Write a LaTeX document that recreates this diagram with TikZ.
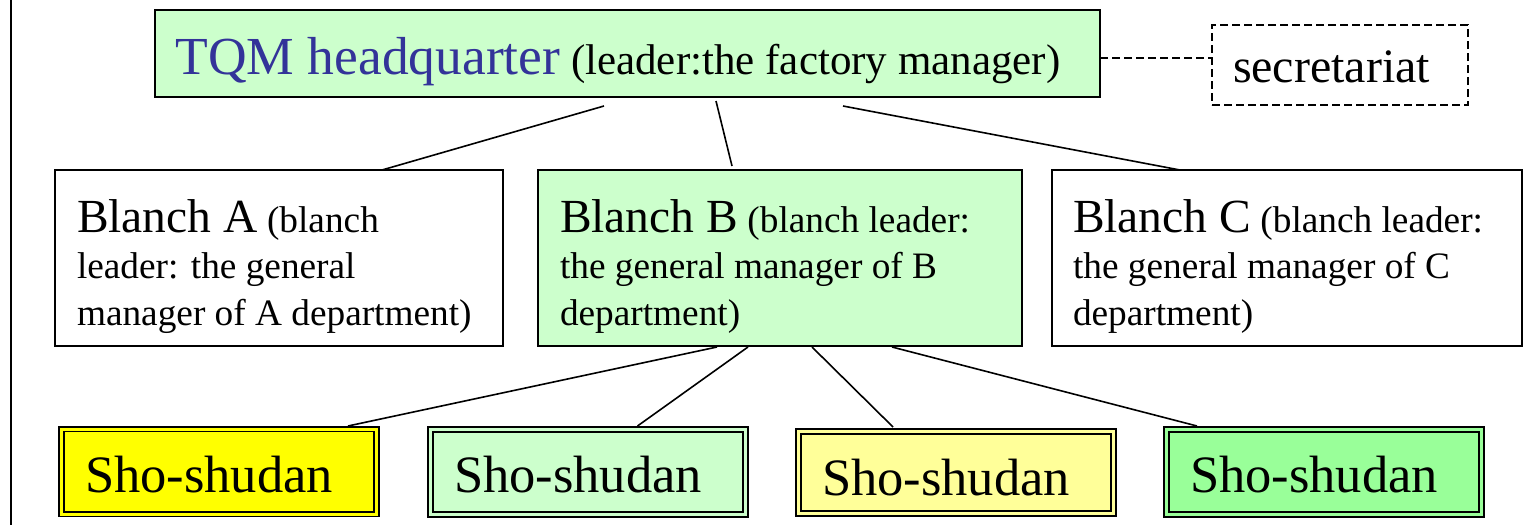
\documentclass[tikz,border=0pt]{standalone}
\usepackage{fontspec}
\setmainfont{Liberation Serif}
\usetikzlibrary{calc}

\definecolor{paleGreen}{HTML}{CCFFCC}
\definecolor{midGreen}{HTML}{99FF99}
\definecolor{brightYellow}{HTML}{FFFF00}
\definecolor{paleYellow}{HTML}{FFFF99}
\definecolor{tqmBlue}{HTML}{333399}

\newcommand\branchTitle{\fontsize{47.5}{46}\selectfont}
\newcommand\branchBody{\fontsize{37.3}{46.5}\selectfont}

\tikzset{
  orgbox/.style={draw=black, line width=2pt, anchor=north west, outer sep=0pt,
    inner ysep=0pt, text height=62pt, text depth=114pt},
  shobox/.style={draw=black, line width=1.8pt, double=#1, double distance=3pt,
    fill=#1, anchor=north west, outer sep=0pt, inner ysep=0pt, inner xsep=23.5pt,
    minimum width=315pt, minimum height=85pt, text width=268pt, align=left,
    text height=63pt, text depth=22pt, font=\fontsize{52.5}{60}\selectfont},
  link/.style={draw=black, line width=1.6pt},
}

\begin{document}
\begin{tikzpicture}[x=1pt, y=-1pt]
\useasboundingbox (0,0) rectangle (1532,525);

% frame rule on the left
\draw[line width=2.2pt] (11,0) -- (11,525);

% top level
\node[draw=black, line width=2.5pt, fill=paleGreen, anchor=north west, outer sep=0pt,
      inner xsep=0pt, inner ysep=0pt, minimum width=945pt, minimum height=87pt,
      text height=64pt, text depth=23pt, font=\fontsize{43}{50}\selectfont]
  (tqm) at (155,10)
  {{\color{tqmBlue}\fontsize{53.5}{60}\selectfont TQM headquarter} (leader:the factory manager)\kern 19pt\relax};

\node[draw=black, line width=1.3pt, dash pattern=on 8pt off 4pt, anchor=north west,
      outer sep=0pt, inner xsep=21pt, inner ysep=0pt, minimum width=256pt,
      minimum height=80pt, text width=214pt, align=left, text height=57pt,
      text depth=23pt, font=\fontsize{48}{55}\selectfont]
  (sec) at (1212,25) {secretariat};

% branches
\node[orgbox, fill=white, inner xsep=22pt] (bA) at (55,170)
  {\parbox[t]{404pt}{\branchBody{\branchTitle Blanch A} (blanch\\leader: the general\\manager of A department)}};
\node[orgbox, fill=paleGreen, inner xsep=22pt] (bB) at (538,170)
  {\parbox[t]{440pt}{\branchBody{\branchTitle Blanch B} (blanch leader:\\the general manager of B\\department)}};
\node[orgbox, fill=white, inner xsep=21pt] (bC) at (1052,170)
  {\parbox[t]{428pt}{\branchBody{\branchTitle Blanch C} (blanch leader:\\the general manager of C\\department)}};

% small groups
\node[shobox=brightYellow] (s1) at (61.5,429) {Sho-shudan};
\node[shobox=paleGreen]    (s2) at (430.5,429.5) {Sho-shudan};
\node[shobox=paleYellow, text height=64pt, text depth=18pt, minimum height=82pt] (s3) at (798.5,431.5) {Sho-shudan};
\node[shobox=midGreen]     (s4) at (1166.5,429.5) {Sho-shudan};

% secretariat link
\draw[line width=1.3pt, dash pattern=on 8pt off 4pt]
  ([shift={(0,4.5)}]tqm.east) -- ([shift={(0,-7)}]sec.west);

% headquarter to branches
\draw[link] ([shift={(-23.5,9)}]tqm.south) -- ([shift={(103,0)}]bA.north);
\draw[link] ([shift={(88.5,4)}]tqm.south) -- ([shift={(-48,-4)}]bB.north);
\draw[link] ([shift={(215.5,9)}]tqm.south) -- ([shift={(-107,0)}]bC.north);

% branch B to its groups
\draw[link] ([shift={(-63,1)}]bB.south) -- ([shift={(129,-3)}]s1.north);
\draw[link] ([shift={(-32,1)}]bB.south) -- ([shift={(49.5,-3.5)}]s2.north);
\draw[link] ([shift={(32,1)}]bB.south) -- ([shift={(-63,-4.5)}]s3.north);
\draw[link] ([shift={(112,1)}]bB.south) -- ([shift={(-127,-3.5)}]s4.north);
\end{tikzpicture}
\end{document}
